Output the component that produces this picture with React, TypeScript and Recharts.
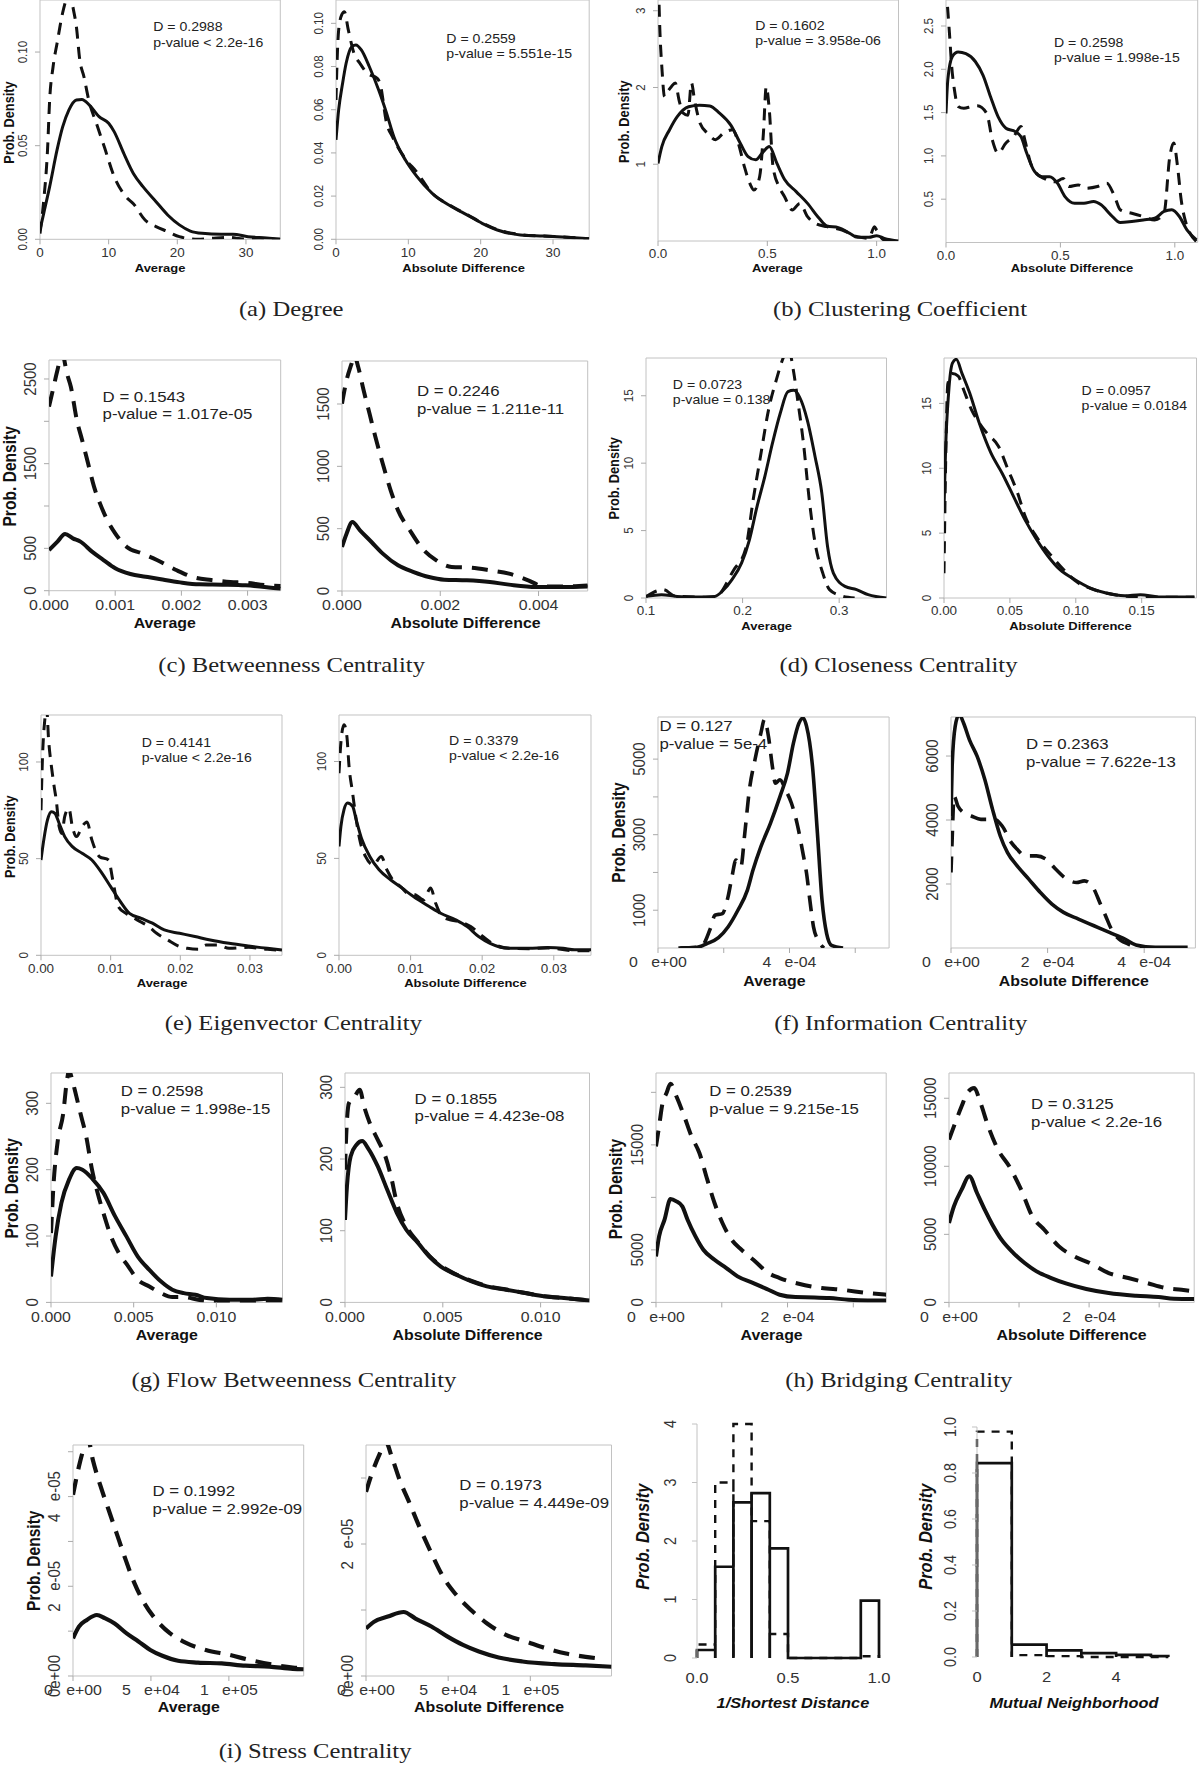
import React from 'react';
import { LineChart, Line, XAxis, YAxis, ReferenceArea } from 'recharts';

type Pt = [number, number];

const SANS = '"Liberation Sans", Arial, sans-serif';
const SERIF = '"Liberation Serif", "Times New Roman", serif';
// the source figure is stretched a little horizontally, text included
const SX = 1.12;

// ---------- density curves: [x, density] ----------
// (a) degree
const degAvgSolid: Pt[] = [[0,0.005],[0.55,0.014],[1.4,0.028],[2.5,0.048],[3.3,0.06],[4.2,0.069],[5.3,0.0744],[6.1,0.0747],[7.2,0.0717],[8.6,0.0655],[10,0.062],[10.8,0.0575],[12.2,0.0459],[13.6,0.0352],[15,0.0281],[16.9,0.0201],[18.6,0.013],[20.3,0.0077],[21.9,0.0044],[23.6,0.0032],[26.4,0.0027],[28.1,0.0027],[30.3,0.0014],[33,0.0007],[35,0]];
const degAvgDashed: Pt[] = [[0,0.003],[0.55,0.021],[1.1,0.048],[1.4,0.074],[1.9,0.092],[2.5,0.105],[3.3,0.121],[3.9,0.129],[4.4,0.132],[4.8,0.124],[5.3,0.1135],[5.8,0.0957],[6.4,0.0868],[7.1,0.0744],[8.3,0.061],[9.4,0.049],[10.8,0.0335],[12.5,0.0228],[13.6,0.019],[15.3,0.0103],[16.9,0.0068],[18.6,0.0041],[20.3,0.0014],[23,0],[25,0.0005],[27.5,0.001],[29.7,0.0002],[31.9,0.0005],[35,0]];
const degDiffSolid: Pt[] = [[0,0.046],[0.37,0.06],[0.9,0.072],[1.4,0.0815],[2.2,0.0892],[2.75,0.09],[3.5,0.0877],[4.6,0.08],[5.9,0.0691],[7,0.0583],[8,0.0475],[9.6,0.0367],[11.2,0.029],[13.3,0.0213],[16,0.0151],[18.1,0.0113],[20.2,0.0074],[22.3,0.0043],[25.5,0.002],[28.7,0.0015],[31.9,0.0009],[35,0.0002]];
const degDiffDashed: Pt[] = [[0,0.0645],[0.1,0.077],[0.37,0.097],[0.8,0.104],[1.16,0.1054],[1.7,0.097],[2.5,0.086],[3.3,0.0815],[4.3,0.0769],[5.7,0.0745],[6.1,0.072],[7,0.0537],[7.8,0.0475],[9.6,0.0372],[11.2,0.031],[13.1,0.022],[16,0.0153],[18.1,0.0115],[20.2,0.0076],[22.3,0.0045],[25.5,0.0022],[28.7,0.0015],[31.9,0.001],[35,0.0002]];

// (b) clustering coefficient
const clusAvgSolid: Pt[] = [[0,1.01],[0.0175,1.23],[0.053,1.45],[0.088,1.62],[0.14,1.75],[0.19,1.77],[0.237,1.76],[0.28,1.67],[0.333,1.51],[0.377,1.27],[0.412,1.1],[0.447,1.057],[0.482,1.165],[0.509,1.23],[0.544,1.01],[0.579,0.8],[0.632,0.643],[0.684,0.49],[0.737,0.296],[0.772,0.196],[0.825,0.174],[0.877,0.1],[0.912,0.048],[0.965,0.048],[1.0,0.07],[1.035,0.035],[1.1,0]];
const clusAvgDashed: Pt[] = [[0,3.6],[0.009,2.71],[0.0175,2.27],[0.03,1.88],[0.045,1.95],[0.061,2.01],[0.079,2.06],[0.096,1.84],[0.114,1.67],[0.137,1.64],[0.153,2.06],[0.167,1.84],[0.193,1.53],[0.228,1.4],[0.263,1.32],[0.298,1.4],[0.342,1.45],[0.368,1.27],[0.395,0.97],[0.42,0.75],[0.439,0.665],[0.465,0.84],[0.482,1.4],[0.495,2.01],[0.509,1.71],[0.526,0.97],[0.553,0.71],[0.579,0.578],[0.614,0.404],[0.649,0.49],[0.684,0.317],[0.719,0.23],[0.772,0.187],[0.842,0.143],[0.912,0.057],[0.965,0.035],[0.99,0.187],[1.0,0.14],[1.035,0.013],[1.1,0]];
const clusDiffSolid: Pt[] = [[0,1.49],[0.008,1.88],[0.028,2.15],[0.053,2.2],[0.087,2.18],[0.128,2.09],[0.162,1.93],[0.195,1.68],[0.228,1.45],[0.262,1.32],[0.303,1.28],[0.328,1.22],[0.353,1.03],[0.387,0.82],[0.42,0.76],[0.453,0.76],[0.487,0.685],[0.52,0.53],[0.562,0.454],[0.603,0.454],[0.645,0.473],[0.678,0.435],[0.72,0.32],[0.762,0.23],[0.812,0.242],[0.862,0.26],[0.912,0.28],[0.953,0.358],[0.987,0.377],[1.02,0.3],[1.053,0.146],[1.095,0.03]];
const clusDiffDashed: Pt[] = [[0,2.95],[0.015,2.42],[0.025,2.03],[0.037,1.76],[0.053,1.57],[0.078,1.55],[0.112,1.57],[0.137,1.58],[0.178,1.49],[0.203,1.18],[0.228,1.03],[0.262,1.15],[0.295,1.22],[0.328,1.34],[0.345,1.18],[0.37,0.915],[0.395,0.8],[0.428,0.74],[0.478,0.7],[0.512,0.74],[0.537,0.646],[0.578,0.665],[0.612,0.627],[0.662,0.646],[0.703,0.685],[0.737,0.53],[0.762,0.377],[0.812,0.338],[0.862,0.3],[0.912,0.26],[0.953,0.34],[0.978,0.99],[0.995,1.15],[1.012,0.877],[1.028,0.49],[1.045,0.26],[1.095,0.01]];

// (c) betweenness
const betwAvgSolid: Pt[] = [[0,480],[0.000128,579],[0.000243,669],[0.00036,618],[0.000475,579],[0.00065,461],[0.000823,362],[0.001,264],[0.00123,197],[0.00146,165],[0.00169,134],[0.00198,98],[0.00227,75],[0.00262,71],[0.00297,63],[0.00332,39],[0.0035,24]];
const betwAvgDashed: Pt[] = [[0,2173],[0.00007,2409],[0.000128,2606],[0.0002,2800],[0.00027,2567],[0.00033,2409],[0.00042,2016],[0.0005,1780],[0.00059,1504],[0.00068,1228],[0.00077,1031],[0.00088,835],[0.001,677],[0.00117,520],[0.0014,441],[0.00163,362],[0.00192,244],[0.00221,153],[0.00245,126],[0.00274,102],[0.00297,94],[0.00326,67],[0.0035,55]];
const betwDiffSolid: Pt[] = [[0,353],[0.000093,460],[0.00021,553],[0.000366,487],[0.0006,393],[0.00083,300],[0.00114,206],[0.00146,152],[0.00177,112],[0.00208,91],[0.00254,86],[0.00301,72],[0.0034,51],[0.00395,32],[0.00449,32],[0.005,37]];
const betwDiffDashed: Pt[] = [[0,1503],[0.000093,1690],[0.000195,1824],[0.00025,1890],[0.00033,1797],[0.00044,1610],[0.00056,1423],[0.00068,1235],[0.00083,1021],[0.00099,808],[0.00114,647],[0.00138,487],[0.00161,353],[0.00192,246],[0.00223,193],[0.00262,187],[0.00301,166],[0.0034,139],[0.00379,86],[0.0041,37],[0.00457,37],[0.005,45]];

// (d) closeness
const closAvgSolid: Pt[] = [[0.1,0.12],[0.116,0.25],[0.132,0.12],[0.152,0.07],[0.171,0.12],[0.179,0.5],[0.189,1.36],[0.199,2.6],[0.207,4.3],[0.215,6.8],[0.223,9],[0.231,11.5],[0.239,13.7],[0.247,15.3],[0.253,15.4],[0.259,14.9],[0.267,13.2],[0.275,10.5],[0.282,7.8],[0.288,3.8],[0.294,1.85],[0.306,0.86],[0.318,0.62],[0.33,0.25],[0.349,0]];
const closAvgDashed: Pt[] = [[0.1,0.1],[0.118,0.62],[0.13,0.15],[0.171,0.05],[0.191,2.1],[0.203,3.6],[0.211,7.3],[0.219,10.7],[0.227,14],[0.235,16.2],[0.242,17.8],[0.247,18.6],[0.253,16.7],[0.257,14.7],[0.263,11.5],[0.269,7.3],[0.275,4.1],[0.283,1.85],[0.29,0.62],[0.302,0.17],[0.316,0]];
const closDiffSolid: Pt[] = [[0,6.8],[0.0012,11.4],[0.0035,15.8],[0.0064,18.1],[0.0093,18.4],[0.0137,17.3],[0.0195,15.8],[0.0267,13.5],[0.0355,11.2],[0.0442,9.6],[0.0529,7.8],[0.0616,6],[0.0703,4.5],[0.0791,3.2],[0.0878,2.2],[0.0994,1.41],[0.111,0.77],[0.123,0.38],[0.137,0.18],[0.149,0.26],[0.163,0.08],[0.19,0.08]];
const closDiffDashed: Pt[] = [[0,1.9],[0.0012,10.1],[0.0029,16.5],[0.0064,17.3],[0.0108,17.1],[0.0151,16],[0.0209,14.5],[0.0267,13.5],[0.0326,12.7],[0.0413,11.7],[0.0486,9.9],[0.0558,8.1],[0.0616,6.3],[0.0703,4.7],[0.082,3.2],[0.0907,2.2],[0.102,1.15],[0.111,0.75],[0.123,0.38],[0.137,0.15],[0.149,0.1],[0.163,0.05],[0.19,0.05]];

// (e) eigenvector
const eigAvgSolid: Pt[] = [[0,49.3],[0.0004,59.7],[0.00093,70],[0.0015,74.3],[0.002,73.4],[0.0026,68.3],[0.0034,61.4],[0.0045,56.2],[0.0059,52.8],[0.0073,49.3],[0.0086,43.3],[0.01,35.5],[0.0114,27.8],[0.0127,21.7],[0.0144,19.1],[0.016,16.6],[0.0177,13.1],[0.0199,11.4],[0.0221,9.7],[0.0243,7.9],[0.027,6.2],[0.0298,4.8],[0.0325,3.6],[0.0346,2.8]];
const eigAvgDashed: Pt[] = [[0,75],[0.0002,101],[0.00055,122],[0.0008,128],[0.0011,111],[0.0015,97.6],[0.0019,87],[0.0022,80],[0.0026,66.6],[0.003,63],[0.0034,71.7],[0.004,76],[0.0045,66.6],[0.0051,61.4],[0.0059,66.6],[0.0066,69],[0.0073,59.7],[0.0084,51],[0.0097,49.3],[0.0103,39],[0.0111,25.2],[0.0122,21.7],[0.0138,18.3],[0.0155,14.8],[0.0166,11.4],[0.0182,7.9],[0.0199,4.5],[0.021,3.6],[0.0226,3.1],[0.0237,5.3],[0.0254,5.3],[0.027,3.6],[0.0298,4.1],[0.0325,3.1],[0.0346,2.4]];
const eigDiffSolid: Pt[] = [[0,56.2],[0.00027,66.6],[0.0007,75.2],[0.0012,78.6],[0.0019,76.9],[0.0024,70],[0.0032,59.7],[0.0043,51],[0.0056,44.1],[0.0072,39],[0.0088,34.7],[0.0104,30.3],[0.0126,25.2],[0.0142,21.7],[0.0163,18.3],[0.0179,14.8],[0.0195,9.7],[0.0211,6.2],[0.0238,3.6],[0.0265,3.6],[0.0291,4],[0.0313,3.6],[0.0329,2.8],[0.0352,2.8]];
const eigDiffDashed: Pt[] = [[0,94],[0.00027,110],[0.0007,119],[0.0011,113],[0.0014,97.6],[0.0019,83.8],[0.0024,70],[0.003,58],[0.0037,51],[0.0048,46.7],[0.0059,51],[0.0067,44],[0.0075,39],[0.0086,35.5],[0.0096,32],[0.0107,31.2],[0.0118,28.6],[0.0128,34.7],[0.0135,26.9],[0.0144,20],[0.0155,18.3],[0.0168,17.4],[0.0184,14.8],[0.0201,9.7],[0.0214,6.2],[0.0238,3.6],[0.0265,3.4],[0.0291,3.8],[0.0329,2.4],[0.0352,2.4]];

// (f) information
const infoAvgSolid: Pt[] = [[0.62e-4,0],[1.14e-4,9],[1.49e-4,115],[1.84e-4,274],[2.13e-4,558],[2.43e-4,1000],[2.72e-4,1531],[2.89e-4,2062],[3.13e-4,2682],[3.42e-4,3301],[3.71e-4,4009],[3.94e-4,4629],[4.12e-4,5425],[4.29e-4,5956],[4.41e-4,6089],[4.52e-4,5868],[4.7e-4,4806],[4.85e-4,3036],[4.99e-4,1266],[5.13e-4,381],[5.28e-4,71],[5.63e-4,0]];
const infoAvgDashed: Pt[] = [[0.68e-4,0],[1.3e-4,30],[1.61e-4,558],[1.73e-4,867],[1.96e-4,912],[2.13e-4,1354],[2.25e-4,1885],[2.37e-4,2328],[2.52e-4,2150],[2.64e-4,3036],[2.78e-4,4186],[2.95e-4,4983],[3.13e-4,5690],[3.24e-4,6050],[3.36e-4,5602],[3.48e-4,4806],[3.57e-4,4363],[3.71e-4,4452],[3.88e-4,4186],[4.06e-4,3832],[4.23e-4,3301],[4.41e-4,2505],[4.52e-4,1974],[4.62e-4,1266],[4.73e-4,558],[4.87e-4,204],[5.05e-4,0]];
const infoDiffSolid: Pt[] = [[0,4125],[0.024e-4,5683],[0.087e-4,6930],[0.167e-4,7300],[0.26e-4,7034],[0.38e-4,6514],[0.54e-4,5995],[0.7e-4,5268],[0.86e-4,4333],[1.02e-4,3501],[1.17e-4,2982],[1.37e-4,2566],[1.61e-4,2151],[1.85e-4,1735],[2.09e-4,1371],[2.33e-4,1112],[2.64e-4,904],[2.96e-4,696],[3.28e-4,488],[3.6e-4,281],[3.83e-4,94],[4.23e-4,21],[4.9e-4,21]];
const infoDiffDashed: Pt[] = [[0,2359],[0.024e-4,3397],[0.063e-4,4748],[0.143e-4,4437],[0.26e-4,4229],[0.42e-4,4125],[0.62e-4,4021],[0.9e-4,4021],[1.06e-4,3813],[1.25e-4,3293],[1.37e-4,3086],[1.53e-4,2878],[1.77e-4,2878],[1.97e-4,2774],[2.17e-4,2462],[2.4e-4,2151],[2.6e-4,2047],[2.76e-4,2099],[2.96e-4,1839],[3.08e-4,1423],[3.2e-4,1008],[3.32e-4,592],[3.44e-4,332],[3.67e-4,125],[3.99e-4,21]];

// (g) flow betweenness
const flowAvgSolid: Pt[] = [[0,39],[0.00028,99.5],[0.00063,150],[0.00109,185],[0.00155,202.5],[0.0019,200],[0.00248,187],[0.00317,165],[0.00387,130],[0.00456,99.5],[0.00525,69],[0.00595,49],[0.00664,31.7],[0.00734,19],[0.00803,14],[0.00873,11.6],[0.00942,6.5],[0.0108,4],[0.0122,4],[0.0131,5.5],[0.014,4]];
const flowAvgDashed: Pt[] = [[0,104.5],[0.00016,180],[0.00039,240],[0.00074,285],[0.00097,335.7],[0.0011,350],[0.0012,343],[0.00144,320],[0.00178,285],[0.00213,250],[0.00248,200],[0.00282,165],[0.00317,134.7],[0.00363,99.5],[0.0041,74.4],[0.00468,54],[0.00525,34],[0.00595,24],[0.00664,14],[0.00734,8],[0.00803,8],[0.0089,4],[0.0099,1.5],[0.0113,0],[0.0131,3],[0.014,3]];
const flowDiffSolid: Pt[] = [[0,115],[0.0001,162],[0.00029,204],[0.00059,220],[0.00088,225],[0.00118,215],[0.00167,190],[0.00216,157],[0.00265,125],[0.00314,101],[0.00373,83],[0.00431,64],[0.0049,50],[0.00569,38.6],[0.00647,29.3],[0.00725,22.3],[0.00824,17.7],[0.00922,13],[0.0102,8.4],[0.0112,6],[0.0125,2.8]];
const flowDiffDashed: Pt[] = [[0,185],[0.00006,231.6],[0.0002,278],[0.00049,287],[0.00075,296.7],[0.00098,273],[0.00127,250],[0.00167,227],[0.00206,204],[0.00235,176],[0.00265,138.6],[0.00314,106],[0.00373,84],[0.00431,65],[0.0049,51],[0.00569,39],[0.00647,30],[0.00725,23],[0.00824,18],[0.00922,13],[0.0102,8.5],[0.0112,6],[0.0125,3]];

// (h) bridging
const bridAvgSolid: Pt[] = [[0,4381],[0.047e-4,6286],[0.13e-4,7874],[0.22e-4,9842],[0.31e-4,9620],[0.4e-4,9144],[0.48e-4,7874],[0.6e-4,6286],[0.72e-4,5016],[0.89e-4,4064],[1.07e-4,3270],[1.24e-4,2476],[1.48e-4,1841],[1.71e-4,1206],[1.88e-4,730],[2.12e-4,508],[2.41e-4,476],[2.64e-4,413],[2.93e-4,254],[3.22e-4,190],[3.5e-4,190]];
const bridAvgDashed: Pt[] = [[0,14859],[0.047e-4,16764],[0.1e-4,18987],[0.16e-4,19939],[0.22e-4,20828],[0.31e-4,19622],[0.43e-4,17717],[0.54e-4,15812],[0.66e-4,14224],[0.78e-4,11684],[0.89e-4,9462],[1.01e-4,7557],[1.15e-4,5969],[1.3e-4,5016],[1.48e-4,4064],[1.71e-4,2794],[1.88e-4,2318],[2.17e-4,1778],[2.52e-4,1365],[2.82e-4,1206],[3.22e-4,889],[3.5e-4,730]];
const bridDiffSolid: Pt[] = [[0,5831],[0.07e-4,7056],[0.18e-4,8281],[0.29e-4,9261],[0.4e-4,8036],[0.51e-4,6811],[0.62e-4,5709],[0.75e-4,4606],[0.92e-4,3626],[1.08e-4,2891],[1.25e-4,2279],[1.46e-4,1789],[1.68e-4,1372],[1.96e-4,980],[2.28e-4,686],[2.67e-4,490],[2.99e-4,392],[3.21e-4,270],[3.5e-4,245]];
const bridDiffDashed: Pt[] = [[0,11956],[0.07e-4,12936],[0.18e-4,14406],[0.26e-4,15386],[0.36e-4,15753],[0.45e-4,14651],[0.56e-4,12936],[0.7e-4,11221],[0.86e-4,9996],[1.03e-4,8281],[1.19e-4,6321],[1.36e-4,5341],[1.57e-4,4116],[1.79e-4,3381],[2.01e-4,2891],[2.28e-4,2156],[2.56e-4,1789],[2.83e-4,1421],[3.1e-4,1054],[3.32e-4,931],[3.5e-4,808]];

// (i) stress
const strAvgSolid: Pt[] = [[0,0.84e-5],[0.38e4,1.1e-5],[0.89e4,1.25e-5],[1.53e4,1.36e-5],[2.04e4,1.29e-5],[2.67e4,1.17e-5],[3.44e4,0.95e-5],[4.2e4,0.77e-5],[4.96e4,0.58e-5],[5.73e4,0.45e-5],[6.74e4,0.34e-5],[8.02e4,0.3e-5],[9.54e4,0.28e-5],[1.107e5,0.23e-5],[1.26e5,0.21e-5],[1.41e5,0.16e-5],[1.48e5,0.15e-5]];
const strAvgDashed: Pt[] = [[0,4.04e-5],[0.38e4,4.67e-5],[0.76e4,5.15e-5],[0.95e4,5.3e-5],[1.27e4,4.82e-5],[1.78e4,4.22e-5],[2.29e4,3.7e-5],[2.8e4,3.18e-5],[3.31e4,2.66e-5],[3.94e4,2.07e-5],[4.58e4,1.62e-5],[5.34e4,1.25e-5],[6.23e4,0.95e-5],[7.25e4,0.74e-5],[8.52e4,0.58e-5],[1.005e5,0.47e-5],[1.13e5,0.36e-5],[1.285e5,0.25e-5],[1.41e5,0.19e-5],[1.48e5,0.17e-5]];
const strDiffSolid: Pt[] = [[0,0.72e-5],[0.48e4,0.82e-5],[1.33e4,0.9e-5],[2.29e4,0.97e-5],[3.01e4,0.87e-5],[3.98e4,0.75e-5],[4.94e4,0.6e-5],[5.9e4,0.47e-5],[6.87e4,0.37e-5],[8.07e4,0.28e-5],[9.52e4,0.22e-5],[1.145e5,0.18e-5],[1.337e5,0.16e-5],[1.494e5,0.14e-5]];
const strDiffDashed: Pt[] = [[0,2.79e-5],[0.36e4,3.07e-5],[0.84e4,3.37e-5],[1.2e4,3.55e-5],[1.57e4,3.32e-5],[2.05e4,2.97e-5],[2.65e4,2.62e-5],[3.25e4,2.26e-5],[3.98e4,1.86e-5],[4.7e4,1.5e-5],[5.42e4,1.25e-5],[6.39e4,1e-5],[7.35e4,0.8e-5],[8.55e4,0.62e-5],[9.76e4,0.52e-5],[1.096e5,0.42e-5],[1.217e5,0.34e-5],[1.337e5,0.29e-5],[1.4e5,0.27e-5]];

// ---------- histograms ----------
const spdEdges = [0, 0.1, 0.2, 0.3, 0.4, 0.5, 0.6, 0.7, 0.8, 0.9, 1.0];
const spdSolid = [0.137, 1.56, 2.66, 2.82, 1.875, 0, 0, 0, 0, 0.98];
const spdDashed = [0.23, 3.0, 4.0, 2.34, 0.41, 0, 0, 0, 0, 0.03];
const mnEdges = [0, 1, 2, 3, 4, 5, 5.5];
const mnSolid = [0.843, 0.054, 0.029, 0.017, 0.009, 0.004];
const mnDashed = [0.98, 0.008, 0.004, 0, 0, 0];

// ---------- ticks ----------
const tick0to30 = [0, 10, 20, 30];
const tickUnit = [0, 0.5, 1.0];
const sciLabel = (m: string, e: string) => `${m}   ${e}`;

type Size = 'sm' | 'lg';
interface PanelSpec {
  L: number; T: number; R: number; B: number;
  xd: [number, number]; yd: [number, number];
  xt: number[]; xl: string[];
  yt: number[]; yl: string[];
  solid: Pt[]; dashed: Pt[];
  sz: Size; lw: number;
}

const SIZES = {
  sm: { xtick: 12, ytick: 11.6, yd: 17.5, xd: 13, dash: '12 8', stat: 12.6, title: 11.6, ylab: 12.8 },
  lg: { xtick: 14.2, ytick: 15, yd: 18.5, xd: 14, dash: '16 10', stat: 15, title: 14.2, ylab: 15.6 },
};

const fx = (ts: number[], d: number) => ts.map((t) => t.toFixed(d));

const panels: PanelSpec[] = [
  { L: 40.2, T: 0, R: 280.5, B: 239.3, xd: [0, 35], yd: [0, 0.1278], xt: tick0to30, xl: fx(tick0to30, 0), yt: [0, 0.05, 0.1], yl: ['0.00', '0.05', '0.10'], solid: degAvgSolid, dashed: degAvgDashed, sz: 'sm', lw: 3 },
  { L: 336.4, T: 0, R: 589.6, B: 239.3, xd: [0, 35], yd: [0, 0.1108], xt: tick0to30, xl: fx(tick0to30, 0), yt: [0, 0.02, 0.04, 0.06, 0.08, 0.1], yl: fx([0, 0.02, 0.04, 0.06, 0.08, 0.1], 2), solid: degDiffSolid, dashed: degDiffDashed, sz: 'sm', lw: 3 },
  { L: 657.5, T: 0, R: 898, B: 241, xd: [0, 1.1], yd: [0, 3.14], xt: tickUnit, xl: fx(tickUnit, 1), yt: [1, 2, 3], yl: ['1', '2', '3'], solid: clusAvgSolid, dashed: clusAvgDashed, sz: 'sm', lw: 3 },
  { L: 946, T: 0, R: 1197.7, B: 242.5, xd: [0, 1.1], yd: [0, 2.8], xt: tickUnit, xl: fx(tickUnit, 1), yt: [0.5, 1, 1.5, 2, 2.5], yl: fx([0.5, 1, 1.5, 2, 2.5], 1), solid: clusDiffSolid, dashed: clusDiffDashed, sz: 'sm', lw: 3 },
  { L: 49.1, T: 360, R: 280.8, B: 590.7, xd: [0, 0.0035], yd: [0, 2724], xt: [0, 0.001, 0.002, 0.003], xl: fx([0, 0.001, 0.002, 0.003], 3), yt: [0, 500, 1000, 1500, 2000, 2500], yl: ['0', '500', '', '1500', '', '2500'], solid: betwAvgSolid, dashed: betwAvgDashed, sz: 'lg', lw: 4 },
  { L: 342.2, T: 360.7, R: 587.9, B: 590.7, xd: [0, 0.005], yd: [0, 1845], xt: [0, 0.002, 0.004], xl: fx([0, 0.002, 0.004], 3), yt: [0, 500, 1000, 1500], yl: ['0', '500', '1000', '1500'], solid: betwDiffSolid, dashed: betwDiffDashed, sz: 'lg', lw: 4 },
  { L: 646, T: 358.3, R: 886.5, B: 598.3, xd: [0.1, 0.349], yd: [0, 17.8], xt: [0.1, 0.2, 0.3], xl: ['0.1', '0.2', '0.3'], yt: [0, 5, 10, 15], yl: ['0', '5', '10', '15'], solid: closAvgSolid, dashed: closAvgDashed, sz: 'sm', lw: 3 },
  { L: 944, T: 358.3, R: 1196.5, B: 598.3, xd: [0, 0.1916], yd: [0, 18.5], xt: [0, 0.05, 0.1, 0.15], xl: fx([0, 0.05, 0.1, 0.15], 2), yt: [0, 5, 10, 15], yl: ['0', '5', '10', '15'], solid: closDiffSolid, dashed: closDiffDashed, sz: 'sm', lw: 3 },
  { L: 41.4, T: 715, R: 282.4, B: 955.3, xd: [0, 0.0346], yd: [0, 124.3], xt: [0, 0.01, 0.02, 0.03], xl: fx([0, 0.01, 0.02, 0.03], 2), yt: [0, 50, 100], yl: ['0', '50', '100'], solid: eigAvgSolid, dashed: eigAvgDashed, sz: 'sm', lw: 3 },
  { L: 339.1, T: 715, R: 591.1, B: 955.3, xd: [0, 0.0352], yd: [0, 124], xt: [0, 0.01, 0.02, 0.03], xl: fx([0, 0.01, 0.02, 0.03], 2), yt: [0, 50, 100], yl: ['0', '50', '100'], solid: eigDiffSolid, dashed: eigDiffDashed, sz: 'sm', lw: 3 },
  { L: 658.3, T: 717.3, R: 889.4, B: 948.3, xd: [0, 7.03e-4], yd: [0, 6115], xt: [0, 2e-4, 4e-4, 6e-4], xl: [sciLabel('0', 'e+00'), '', sciLabel('4', 'e-04'), ''], yt: [1000, 2000, 3000, 4000, 5000], yl: ['1000', '', '3000', '', '5000'], solid: infoAvgSolid, dashed: infoAvgDashed, sz: 'lg', lw: 3.6 },
  { L: 951.4, T: 717.3, R: 1195.8, B: 948.3, xd: [0, 5.06e-4], yd: [0, 7220], xt: [0, 2e-4, 4e-4], xl: [sciLabel('0', 'e+00'), sciLabel('2', 'e-04'), sciLabel('4', 'e-04')], yt: [2000, 4000, 6000], yl: ['2000', '4000', '6000'], solid: infoDiffSolid, dashed: infoDiffDashed, sz: 'lg', lw: 3.6 },
  { L: 50.9, T: 1073.3, R: 282.4, B: 1302.7, xd: [0, 0.014], yd: [0, 345.7], xt: [0, 0.005, 0.01], xl: ['0.000', '0.005', '0.010'], yt: [0, 100, 200, 300], yl: ['0', '100', '200', '300'], solid: flowAvgSolid, dashed: flowAvgDashed, sz: 'lg', lw: 4 },
  { L: 344.8, T: 1073.3, R: 589.3, B: 1302.7, xd: [0, 0.0125], yd: [0, 320], xt: [0, 0.005, 0.01], xl: ['0.000', '0.005', '0.010'], yt: [0, 100, 200, 300], yl: ['0', '100', '200', '300'], solid: flowDiffSolid, dashed: flowDiffDashed, sz: 'lg', lw: 4 },
  { L: 656.3, T: 1073.3, R: 886.5, B: 1302.7, xd: [0, 3.5e-4], yd: [0, 21843], xt: [0, 1e-4, 2e-4, 3e-4], xl: [sciLabel('0', 'e+00'), '', sciLabel('2', 'e-04'), ''], yt: [0, 5000, 10000, 15000, 20000], yl: ['0', '5000', '', '15000', ''], solid: bridAvgSolid, dashed: bridAvgDashed, sz: 'lg', lw: 4 },
  { L: 949.4, T: 1073.3, R: 1194.6, B: 1302.7, xd: [0, 3.5e-4], yd: [0, 16856], xt: [0, 1e-4, 2e-4, 3e-4], xl: [sciLabel('0', 'e+00'), '', sciLabel('2', 'e-04'), ''], yt: [0, 5000, 10000, 15000], yl: ['0', '5000', '10000', '15000'], solid: bridDiffSolid, dashed: bridDiffDashed, sz: 'lg', lw: 4 },
  { L: 73.3, T: 1445, R: 304, B: 1676, xd: [0, 1.48e5], yd: [0, 5.15e-5], xt: [0, 5e4, 1e5], xl: [sciLabel('0', 'e+00'), sciLabel('5', 'e+04'), sciLabel('1', 'e+05')], yt: [0, 1e-5, 2e-5, 3e-5, 4e-5, 5e-5], yl: ['0e+00', '', sciLabel('2', 'e-05'), '', sciLabel('4', 'e-05'), ''], solid: strAvgSolid, dashed: strAvgDashed, sz: 'lg', lw: 4.2 },
  { L: 366.2, T: 1445, R: 611.7, B: 1676, xd: [0, 1.494e5], yd: [0, 3.5e-5], xt: [0, 5e4, 1e5], xl: [sciLabel('0', 'e+00'), sciLabel('5', 'e+04'), sciLabel('1', 'e+05')], yt: [0, 1e-5, 2e-5, 3e-5], yl: ['0e+00', '', sciLabel('2', 'e-05'), ''], solid: strDiffSolid, dashed: strDiffDashed, sz: 'lg', lw: 4.2 },
];

// stats text: [x, yD, yP, D, p, size]
const stats: [number, number, number, string, string, Size][] = [
  [153.2, 27, 42.7, 'D = 0.2988', 'p-value < 2.2e-16', 'sm'],
  [446.3, 38.3, 53.7, 'D = 0.2559', 'p-value = 5.551e-15', 'sm'],
  [755.2, 25.3, 41, 'D = 0.1602', 'p-value = 3.958e-06', 'sm'],
  [1054, 42.5, 57.5, 'D = 0.2598', 'p-value = 1.998e-15', 'sm'],
  [102.6, 396.7, 414, 'D = 0.1543', 'p-value = 1.017e-05', 'lg'],
  [416.9, 390.7, 409, 'D = 0.2246', 'p-value = 1.211e-11', 'lg'],
  [672.8, 384.3, 399.3, 'D = 0.0723', 'p-value = 0.138', 'sm'],
  [1081.6, 391, 406, 'D = 0.0957', 'p-value = 0.0184', 'sm'],
  [141.7, 743, 758, 'D = 0.4141', 'p-value < 2.2e-16', 'sm'],
  [449.1, 740.7, 755.3, 'D = 0.3379', 'p-value < 2.2e-16', 'sm'],
  [659.4, 726.3, 743.7, 'D = 0.127', 'p-value = 5e-4', 'lg'],
  [1026, 743.7, 761.7, 'D = 0.2363', 'p-value = 7.622e-13', 'lg'],
  [120.7, 1090.7, 1108.7, 'D = 0.2598', 'p-value = 1.998e-15', 'lg'],
  [414.6, 1099, 1116, 'D = 0.1855', 'p-value = 4.423e-08', 'lg'],
  [709.2, 1091, 1108.7, 'D = 0.2539', 'p-value = 9.215e-15', 'lg'],
  [1031, 1104.3, 1122.3, 'D = 0.3125', 'p-value < 2.2e-16', 'lg'],
  [152.4, 1490.7, 1508.7, 'D = 0.1992', 'p-value = 2.992e-09', 'lg'],
  [459.3, 1485, 1503, 'D = 0.1973', 'p-value = 4.449e-09', 'lg'],
];

// x-axis titles: [cx, cy, text, size]
const xTitles: [number, number, string, Size][] = [
  [160.1, 268.3, 'Average', 'sm'], [463.6, 268.3, 'Absolute Difference', 'sm'],
  [777.4, 268, 'Average', 'sm'], [1072, 268, 'Absolute Difference', 'sm'],
  [164.7, 623.3, 'Average', 'lg'], [465.5, 623.3, 'Absolute Difference', 'lg'],
  [766.7, 626, 'Average', 'sm'], [1070.5, 626, 'Absolute Difference', 'sm'],
  [162.1, 983.3, 'Average', 'sm'], [465.5, 983.3, 'Absolute Difference', 'sm'],
  [774.4, 980.7, 'Average', 'lg'], [1073.9, 980.7, 'Absolute Difference', 'lg'],
  [166.7, 1335.3, 'Average', 'lg'], [467.5, 1335.3, 'Absolute Difference', 'lg'],
  [771.6, 1335.3, 'Average', 'lg'], [1071.6, 1335.3, 'Absolute Difference', 'lg'],
  [188.8, 1707.3, 'Average', 'lg'], [489, 1707.3, 'Absolute Difference', 'lg'],
];

// y-axis titles "Prob. Density": [cx, cy, size]
const yTitles: [number, number, Size][] = [
  [9.5, 122.5, 'sm'], [624.1, 121.7, 'sm'],
  [10, 476.3, 'lg'], [614.1, 478.3, 'sm'],
  [10.3, 836.7, 'sm'], [619.2, 832.5, 'lg'],
  [12.3, 1188.3, 'lg'], [616.1, 1189, 'lg'],
  [34.4, 1560.7, 'lg'],
];

const captions: [number, number, string][] = [
  [291.2, 308, '(a) Degree'],
  [900, 308, '(b) Clustering Coefficient'],
  [291.6, 664.3, '(c) Betweenness Centrality'],
  [898.5, 664, '(d) Closeness Centrality'],
  [293.4, 1022.3, '(e) Eigenvector Centrality'],
  [900.8, 1022, '(f) Information Centrality'],
  [293.9, 1379, '(g) Flow Betweenness Centrality'],
  [898.8, 1379, '(h) Bridging Centrality'],
  [315.1, 1750, '(i) Stress Centrality'],
];

const toData = (pts: Pt[]) => pts.map(([x, y]) => ({ x, y }));

function labelFor(ticks: number[], labels: string[], v: number) {
  const i = ticks.findIndex((t) => Math.abs(t - v) <= Math.abs(t) * 1e-6 + 1e-15);
  return i >= 0 ? labels[i] : '';
}

// horizontal text, widened like the source figure
function HText({ x, y, anchor = 'start', fs, family = SANS, weight, italic, fill = '#222', rotate = false, children }: any) {
  const tf = `translate(${x} ${y}) scale(${SX} 1)${rotate ? ' rotate(-90)' : ''}`;
  return (
    <text transform={tf} x={0} y={0} textAnchor={anchor} dominantBaseline="central" fontFamily={family} fontSize={fs}
      fontWeight={weight} fontStyle={italic ? 'italic' : undefined} fill={fill} style={{ whiteSpace: 'pre' }}>
      {children}
    </text>
  );
}

function xTick(ticks: number[], labels: string[], fs: number, d: number, tsz: number) {
  return (t: any) => (
    <HText x={t.x} y={t.y - tsz + d} anchor="middle" fs={fs} fill="#333">{labelFor(ticks, labels, t.payload.value)}</HText>
  );
}

function yTick(ticks: number[], labels: string[], fs: number, d: number, tsz: number) {
  return (t: any) => (
    <HText x={t.x + tsz - d} y={t.y} anchor="middle" fs={fs} fill="#333" rotate>{labelFor(ticks, labels, t.payload.value)}</HText>
  );
}

function DensityPanel({ p }: { p: PanelSpec }) {
  const padL = 48, padT = 4, padR = 4, padB = 34;
  const w = p.R - p.L, h = p.B - p.T;
  const s = SIZES[p.sz];
  return (
    <div style={{ position: 'absolute', left: p.L - padL, top: p.T - padT }}>
      <LineChart width={w + padL + padR} height={h + padT + padB} margin={{ top: padT, right: padR, left: 0, bottom: 0 }}>
        <XAxis type="number" dataKey="x" domain={p.xd} ticks={p.xt} interval={0} allowDataOverflow height={padB}
          tickSize={5} tickMargin={0} axisLine={false} tickLine={{ stroke: '#aaa' }}
          tick={xTick(p.xt, p.xl, s.xtick, s.xd, 5)} />
        <YAxis type="number" domain={p.yd} ticks={p.yt} interval={0} allowDataOverflow width={padL}
          tickSize={5} tickMargin={0} axisLine={false} tickLine={{ stroke: '#aaa' }}
          tick={yTick(p.yt, p.yl, s.ytick, s.yd, 5)} />
        <ReferenceArea x1={p.xd[0]} x2={p.xd[1]} y1={p.yd[0]} y2={p.yd[1]} fill="none" fillOpacity={0} stroke="#c2c2c2" strokeWidth={1} ifOverflow="visible" />
        <Line data={toData(p.dashed)} dataKey="y" type="monotone" stroke="#111" strokeWidth={p.lw} strokeDasharray={s.dash} dot={false} activeDot={false} isAnimationActive={false} />
        <Line data={toData(p.solid)} dataKey="y" type="monotone" stroke="#111" strokeWidth={p.lw} dot={false} activeDot={false} isAnimationActive={false} />
      </LineChart>
    </div>
  );
}

// outline of a histogram as a path through the bin edges
function histOutline(edges: number[], heights: number[]) {
  const pts: { x: number; y: number }[] = [];
  heights.forEach((hgt, i) => {
    pts.push({ x: edges[i], y: 0 }, { x: edges[i], y: hgt }, { x: edges[i + 1], y: hgt }, { x: edges[i + 1], y: 0 });
  });
  return pts;
}

interface HistSpec {
  L: number; T: number; R: number; B: number;
  xd: [number, number]; yd: [number, number];
  xt: number[]; xl: string[]; yt: number[]; yl: string[];
  edges: number[]; solid: number[]; dashed: number[];
}

const hists: HistSpec[] = [
  { L: 696.7, T: 1424, R: 878.7, B: 1658, xd: [0, 1], yd: [0, 4], xt: tickUnit, xl: fx(tickUnit, 1), yt: [0, 1, 2, 3, 4], yl: ['0', '1', '2', '3', '4'], edges: spdEdges, solid: spdSolid, dashed: spdDashed },
  { L: 977.2, T: 1427.3, R: 1168.5, B: 1657.3, xd: [0, 5.5], yd: [0, 1], xt: [0, 2, 4], xl: ['0', '2', '4'], yt: [0, 0.2, 0.4, 0.6, 0.8, 1.0], yl: fx([0, 0.2, 0.4, 0.6, 0.8, 1.0], 1), edges: mnEdges, solid: mnSolid, dashed: mnDashed },
];

function HistPanel({ p }: { p: HistSpec }) {
  const padL = 48, padT = 16, padR = 24, padB = 40;
  const w = p.R - p.L, h = p.B - p.T;
  return (
    <div style={{ position: 'absolute', left: p.L - padL, top: p.T - padT }}>
      <LineChart width={w + padL + padR} height={h + padT + padB} margin={{ top: padT, right: padR, left: 0, bottom: 0 }}>
        <XAxis type="number" dataKey="x" domain={p.xd} ticks={p.xt} interval={0} height={padB}
          tickSize={0} tickMargin={0} axisLine={false} tickLine={false}
          tick={xTick(p.xt, p.xl, 14.8, 20, 0)} />
        <YAxis type="number" domain={p.yd} ticks={p.yt} interval={0} width={padL}
          tickSize={5} tickMargin={0} axisLine={{ stroke: '#c2c2c2' }} tickLine={{ stroke: '#c2c2c2' }}
          tick={yTick(p.yt, p.yl, 14.4, 27, 5)} />
        <Line data={histOutline(p.edges, p.dashed)} dataKey="y" type="linear" stroke="#111" strokeWidth={2.4} strokeDasharray="8 7" dot={false} activeDot={false} isAnimationActive={false} />
        <Line data={histOutline(p.edges, p.solid)} dataKey="y" type="linear" stroke="#111" strokeWidth={2.7} dot={false} activeDot={false} isAnimationActive={false} />
      </LineChart>
    </div>
  );
}

export default function App() {
  return (
    <div style={{ position: 'absolute', left: 0, top: 0, width: 1200, height: 1766, background: '#fff', overflow: 'hidden' }}>
      {panels.map((p, i) => <DensityPanel key={i} p={p} />)}
      {hists.map((p, i) => <HistPanel key={i} p={p} />)}
      <svg width={1200} height={1766} style={{ position: 'absolute', left: 0, top: 0, pointerEvents: 'none' }}>
        {stats.map(([x, y1, y2, d, pv, sz], i) => (
          <g key={`s${i}`}>
            <HText x={x} y={y1} fs={SIZES[sz].stat}>{d}</HText>
            <HText x={x} y={y2} fs={SIZES[sz].stat}>{pv}</HText>
          </g>
        ))}
        {xTitles.map(([x, y, t, sz], i) => (
          <HText key={`x${i}`} x={x} y={y} anchor="middle" weight="bold" fs={SIZES[sz].title} fill="#111">{t}</HText>
        ))}
        {yTitles.map(([x, y, sz], i) => (
          <HText key={`y${i}`} x={x} y={y} anchor="middle" weight="bold" fs={SIZES[sz].ylab} fill="#111" rotate>Prob. Density</HText>
        ))}
        <HText x={792.9} y={1703.3} anchor="middle" weight="bold" italic fs={14.6} fill="#111">1/Shortest Distance</HText>
        <HText x={1073.9} y={1703.3} anchor="middle" weight="bold" italic fs={14.6} fill="#111">Mutual Neighborhood</HText>
        <HText x={643} y={1536.7} anchor="middle" weight="bold" italic fs={16.5} fill="#111" rotate>Prob. Density</HText>
        <HText x={925.6} y={1536.7} anchor="middle" weight="bold" italic fs={16.5} fill="#111" rotate>Prob. Density</HText>
        {captions.map(([x, y, t], i) => (
          <HText key={`c${i}`} x={x} y={y} anchor="middle" family={SERIF} fs={22} fill="#222">{t}</HText>
        ))}
      </svg>
    </div>
  );
}
